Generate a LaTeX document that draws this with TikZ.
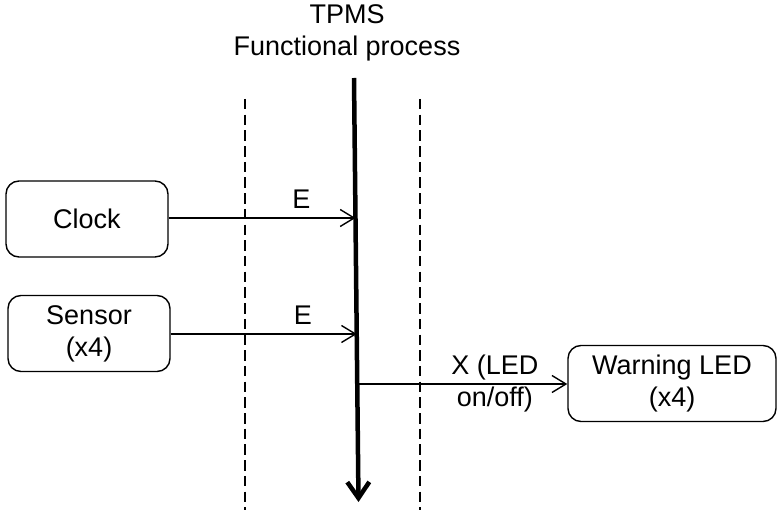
\documentclass[tikz,border=0pt]{standalone}
\usepackage{fontspec}
\setmainfont{Liberation Sans}
\usetikzlibrary{arrows.meta}
\begin{document}
\begin{tikzpicture}[x=1pt,y=-1pt,
  every node/.style={font=\fontsize{27}{32}\selectfont, align=center, inner sep=0pt},
  actor/.style={draw, line width=1.4pt, rounded corners=13pt, minimum height=76pt},
  flow/.style={line width=1.4pt, -{Straight Barb[length=14pt,width=17pt,line width=1.4pt]}},
  bound/.style={line width=2pt, dash pattern=on 10.5pt off 5.2pt},
  proc/.style={line width=4.5pt, -{Straight Barb[length=16pt,width=22pt,line width=4.5pt]}},
  lbl/.style={above, inner sep=9pt}]
\useasboundingbox (0,0) rectangle (778,510);
% title
\node (title) at (347,32.5) {TPMS\\Functional process};
% boundaries
\draw[bound] (245,99) -- (245,510);
\draw[bound] (420,99) -- (420,510);
% functional process
\coordinate (ptop) at (354,78);
\coordinate (pend) at (358.5,502);
\draw[proc] (ptop) -- (pend);
\coordinate (inA) at (355.5,218);
\coordinate (inB) at (356.8,334);
\coordinate (outC) at (357.3,384);
% actors
\node[actor, minimum width=162pt] (clock) at (87,219) {Clock};
\node[actor, minimum width=162pt] (sensor) at (89,333.5) {Sensor\\(x4)};
\node[actor, minimum width=208pt] (led) at (672,383.5) {Warning LED\\(x4)};
% data movements
\draw[flow] (clock.east |- inA) -- (inA) node[lbl, pos=0.71] (e1) {E};
\draw[flow] (sensor.east |- inB) -- (inB) node[lbl, pos=0.71] (e2) {E};
\draw[flow] (outC) -- (led.west |- outC) node[pos=0.655] (x1) {X (LED\\on/off)};
\end{tikzpicture}
\end{document}
